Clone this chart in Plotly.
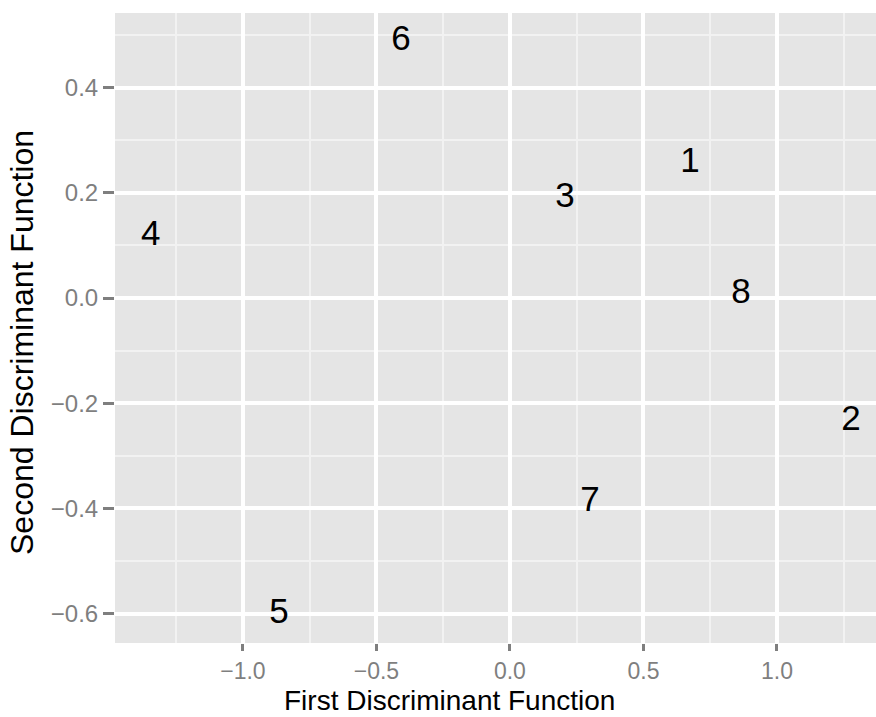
import plotly.graph_objects as go

labels = ["1", "2", "3", "4", "5", "6", "7", "8"]
ld1 = [0.674, 1.277, 0.206, -1.345, -0.865, -0.408, 0.300, 0.865]
ld2 = [0.257, -0.234, 0.190, 0.118, -0.601, 0.488, -0.388, 0.008]

x_title = "First Discriminant Function"
y_title = "Second Discriminant Function"

W, H = 876, 717
ml, mr, mt, mb = 115, 0, 13, 74

fig = go.Figure()
fig.add_trace(go.Scatter(
    x=ld1, y=ld2, text=labels, mode="text",
    textposition="middle center",
    textfont=dict(family="Liberation Sans, Arial", size=35, color="black"),
    hoverinfo="skip", showlegend=False,
))

axis_common = dict(
    showline=False, zeroline=False, showgrid=True,
    gridcolor="white", gridwidth=3.5,
    ticks="outside", tickwidth=3, tickcolor="#7F7F7F",
    tickformat=".1f",
)

fig.update_xaxes(
    range=[-1.479, 1.371], tick0=0, dtick=0.5, ticklen=7,
    tickfont=dict(family="Liberation Sans, Arial", size=23, color="#7F7F7F"),
    minor=dict(dtick=0.25, showgrid=True, gridcolor="#F2F2F2", gridwidth=1.8, ticks=""),
    **axis_common,
)
fig.update_yaxes(
    range=[-0.656, 0.542], tick0=0, dtick=0.2, ticklen=11,
    tickfont=dict(family="Liberation Sans, Arial", size=24, color="#7F7F7F"),
    minor=dict(dtick=0.1, showgrid=True, gridcolor="#F2F2F2", gridwidth=1.8, ticks=""),
    **axis_common,
)

pw = W - ml - mr
ph = H - mt - mb
fig.add_annotation(
    text=x_title, xref="paper", yref="paper",
    x=(449 - ml) / pw, y=0, yanchor="middle", xanchor="center",
    yshift=-(700 - (H - mb)), showarrow=False,
    font=dict(family="Liberation Sans, Arial", size=28, color="black"),
)
fig.add_annotation(
    text=y_title, xref="paper", yref="paper",
    x=0, xshift=-(ml - 22), y=((H - mb) - 343) / ph,
    xanchor="center", yanchor="middle", textangle=-90, showarrow=False,
    font=dict(family="Liberation Sans, Arial", size=32, color="black"),
)

fig.update_layout(
    width=W, height=H,
    margin=dict(l=ml, r=mr, t=mt, b=mb, autoexpand=False),
    plot_bgcolor="#E5E5E5", paper_bgcolor="white",
)

fig.write_html("out.html")
